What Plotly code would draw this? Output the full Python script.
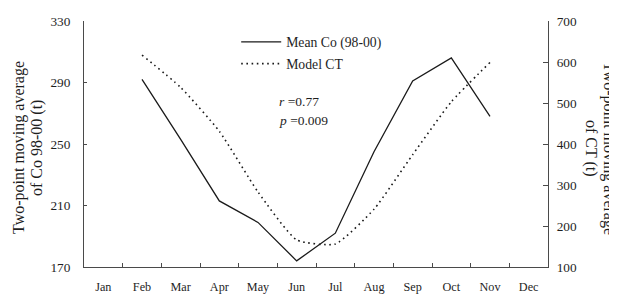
import plotly.graph_objects as go

months = ["Jan", "Feb", "Mar", "Apr", "May", "Jun", "Jul", "Aug", "Sep", "Oct", "Nov", "Dec"]
mean_co = [None, 292, 253, 213, 199, 174, 192, 245, 291, 306, 268, None]
model_ct = [None, 617, 538, 431, 283, 166, 156, 241, 374, 503, 599, None]

left_ticks = [170, 210, 250, 290, 330]
right_ticks = [100, 200, 300, 400, 500, 600, 700]

FONT = "Liberation Serif"
INK = "#1e1e1e"
AX = "#4a4a4a"

# The page body has an 8px margin, so the figure is drawn 8px in and down.
OFF = 8
W, H = 617 - OFF, 296 - OFF
# plot area in page px (used only to place texts in paper coords)
L, R, T, B = 84 - OFF, 548 - OFF, 21 - OFF, 267 - OFF


def px(page_x):
    return (page_x - OFF - L) / (R - L)


def py(page_y):
    return (B - (page_y - OFF)) / (B - T)


fig = go.Figure()
fig.add_trace(go.Scatter(
    x=months, y=mean_co, name="Mean Co (98-00)", mode="lines",
    line=dict(color="#1a1a1a", width=1.3), yaxis="y", legendgroup="a"))
fig.add_trace(go.Scatter(
    x=months, y=model_ct, name="Model CT", mode="lines",
    line=dict(color="#1a1a1a", width=1.6, dash="1.6px,3.6px", shape="spline", smoothing=0.5),
    yaxis="y2", legendgroup="b"))

fig.update_layout(
    width=W, height=H,
    margin=dict(l=L, r=W - R, t=T, b=H - B, autoexpand=False),
    paper_bgcolor="white", plot_bgcolor="white",
    font=dict(family=FONT, size=13, color=INK),
    showlegend=True,
    legend=dict(x=0.328, y=0.978, xanchor="left", yanchor="top",
                bgcolor="rgba(0,0,0,0)", font=dict(size=13.7, family=FONT, color=INK),
                tracegroupgap=1, itemwidth=40),
    xaxis=dict(type="category", tickson="boundaries", ticks="inside", ticklen=4,
               tickcolor=AX, showline=True, linecolor=AX, linewidth=1,
               showgrid=False, zeroline=False, range=[-0.5, 11.5],
               tickfont=dict(size=12.2, family=FONT, color=INK), ticklabelstandoff=8),
    yaxis=dict(range=[170, 330], tickvals=left_ticks, ticks="inside", ticklen=3,
               tickcolor=AX, showline=True, linecolor=AX, linewidth=1,
               showgrid=False, zeroline=False,
               tickfont=dict(size=13.3, family=FONT, color=INK), ticklabelstandoff=10),
    yaxis2=dict(range=[100, 700], tickvals=right_ticks, overlaying="y", side="right",
                ticks="inside", ticklen=5, tickcolor=AX, showline=True,
                linecolor=AX, linewidth=1, showgrid=False, zeroline=False,
                tickfont=dict(size=13.3, family=FONT, color=INK), ticklabelstandoff=5),
)

title_font = dict(size=16, family=FONT, color=INK)
for txt, xp, ang in [("Two-point moving average", 19, -90),
                     ("of Co 98-00 (t)", 37, -90),
                     ("Two-point moving average", 609, 90),
                     ("of CT (t)", 591, 90)]:
    fig.add_annotation(text=txt, xref="paper", yref="paper", x=px(xp), y=py(148),
                       xanchor="center", yanchor="middle", textangle=ang,
                       showarrow=False, font=title_font)

fig.add_annotation(text="<i>r</i> =0.77", xref="paper", yref="paper", x=px(277), y=py(101),
                   xanchor="left", yanchor="middle", showarrow=False,
                   font=dict(size=13.5, family=FONT, color=INK))
fig.add_annotation(text="<i>p</i> =0.009", xref="paper", yref="paper", x=px(277), y=py(120),
                   xanchor="left", yanchor="middle", showarrow=False,
                   font=dict(size=13.5, family=FONT, color=INK))

fig.write_html("out.html")
